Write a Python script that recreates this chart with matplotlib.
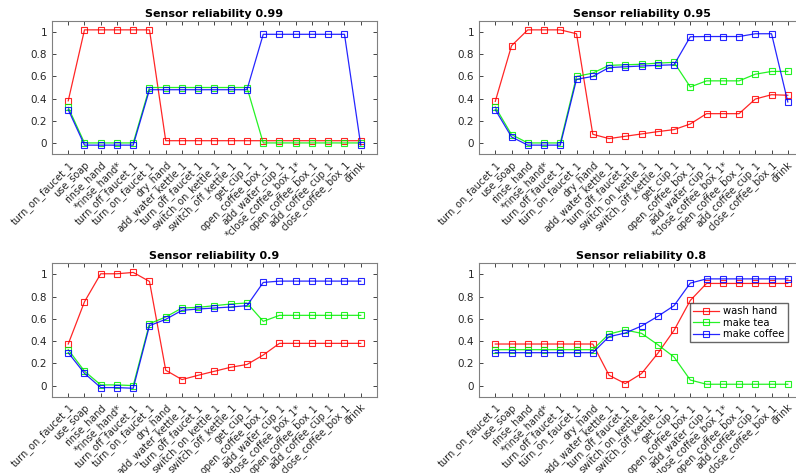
import matplotlib
matplotlib.use("Agg")
import matplotlib.pyplot as plt
import numpy as np

steps = ["turn_on_faucet_1", "use_soap", "rinse_hand", "*rinse_hand*",
         "turn_off_faucet_1", "turn_on_faucet_1", "dry_hand",
         "add_water_kettle_1", "turn_off_faucet_1", "switch_on_kettle_1",
         "switch_off_kettle_1", "get_cup_1", "open_coffee_box_1",
         "add_water_cup_1", "*close_coffee_box_1*", "open_coffee_box_1",
         "add_coffee_cup_1", "close_coffee_box_1", "drink"]
reliabilities = ["0.99", "0.95", "0.9", "0.8"]
series_names = ["wash hand", "make tea", "make coffee"]

# sensor reliability 0.99
wash_99 = [0.38, 1.02, 1.02, 1.02, 1.02, 1.02, 0.02, 0.02, 0.02, 0.02,
           0.02, 0.02, 0.02, 0.02, 0.02, 0.02, 0.02, 0.02, 0.02]
tea_99 = [0.32, 0.0, 0.0, 0.0, 0.0, 0.5, 0.5, 0.5, 0.5, 0.5,
          0.5, 0.5, 0.0, 0.0, 0.0, 0.0, 0.0, 0.0, 0.0]
coffee_99 = [0.30, -0.02, -0.02, -0.02, -0.02, 0.48, 0.48, 0.48, 0.48, 0.48,
             0.48, 0.48, 0.98, 0.98, 0.98, 0.98, 0.98, 0.98, -0.02]

# sensor reliability 0.95
wash_95 = [0.375, 0.877, 1.02, 1.02, 1.02, 0.985, 0.078, 0.039, 0.06, 0.081,
           0.102, 0.12, 0.171, 0.264, 0.264, 0.264, 0.396, 0.435, 0.43]
tea_95 = [0.324, 0.075, 0.0, 0.0, 0.0, 0.60, 0.63, 0.70, 0.705, 0.71,
          0.72, 0.727, 0.505, 0.56, 0.56, 0.56, 0.62, 0.645, 0.645]
coffee_95 = [0.30, 0.054, -0.02, -0.02, -0.02, 0.574, 0.60, 0.68, 0.687, 0.694,
             0.70, 0.705, 0.958, 0.96, 0.96, 0.96, 0.985, 0.985, 0.37]

# sensor reliability 0.9
wash_90 = [0.374, 0.754, 1.006, 1.006, 1.018, 0.937, 0.138, 0.054, 0.093, 0.129,
           0.165, 0.19, 0.275, 0.38, 0.38, 0.38, 0.38, 0.38, 0.38]
tea_90 = [0.323, 0.13, 0.006, 0.006, 0.0, 0.557, 0.617, 0.698, 0.704, 0.719,
          0.734, 0.743, 0.578, 0.632, 0.632, 0.632, 0.632, 0.632, 0.632]
coffee_90 = [0.296, 0.11, -0.018, -0.018, -0.024, 0.539, 0.596, 0.677, 0.689, 0.698,
             0.707, 0.719, 0.928, 0.94, 0.94, 0.94, 0.94, 0.94, 0.94]

# sensor reliability 0.8
wash_80 = [0.374, 0.374, 0.374, 0.374, 0.374, 0.374, 0.374, 0.093, 0.018, 0.108,
           0.29, 0.497, 0.766, 0.919, 0.919, 0.919, 0.919, 0.919, 0.919]
tea_80 = [0.323, 0.323, 0.323, 0.323, 0.323, 0.323, 0.323, 0.464, 0.5, 0.47,
          0.368, 0.257, 0.05, 0.012, 0.012, 0.012, 0.012, 0.012, 0.012]
coffee_80 = [0.296, 0.296, 0.296, 0.296, 0.296, 0.296, 0.296, 0.44, 0.473, 0.536,
             0.623, 0.719, 0.922, 0.96, 0.96, 0.96, 0.96, 0.96, 0.96]

panels = [(wash_99, tea_99, coffee_99), (wash_95, tea_95, coffee_95),
          (wash_90, tea_90, coffee_90), (wash_80, tea_80, coffee_80)]
colors = ["#ff0000", "#00f000", "#0000ff"]

fig = plt.figure(figsize=(7.96, 4.73), dpi=100)
boxes = [(0.0653, 0.6744, 0.4083, 0.2812), (0.6018, 0.6744, 0.4083, 0.2812),
         (0.0653, 0.1613, 0.4083, 0.2820), (0.6018, 0.1613, 0.4083, 0.2820)]

x = np.arange(1, len(steps) + 1)
for i, (box, rel, data) in enumerate(zip(boxes, reliabilities, panels)):
    ax = fig.add_axes(box)
    for vals, col, name in zip(data, colors, series_names):
        ax.plot(x, vals, color=col, lw=0.9, marker="s", ms=5, mfc="none",
                mew=0.8, label=name, alpha=0.85)
    ax.set_xlim(0, len(steps) + 1)
    ax.set_ylim(-0.1, 1.1)
    ax.set_xticks(x)
    ax.set_xticklabels(steps, rotation=45, ha="right", rotation_mode="anchor",
                       fontsize=7, color="#262626")
    ax.set_yticks([0, 0.2, 0.4, 0.6, 0.8, 1])
    ax.set_yticklabels(["0", "0.2", "0.4", "0.6", "0.8", "1"], fontsize=7.5,
                       color="#262626")
    ax.tick_params(axis="x", pad=4)
    ax.tick_params(direction="in", top=True, right=True, length=3,
                   width=0.6, color="#262626")
    for s in ax.spines.values():
        s.set_color("#808080")
        s.set_linewidth(0.8)
    ax.set_title(f"Sensor reliability {rel}", fontsize=8, fontweight="bold",
                 pad=3)
    if i == 3:
        ax.legend(loc="center right", bbox_to_anchor=(0.965, 0.555), fontsize=7.2,
                  frameon=True, fancybox=False, edgecolor="#404040",
                  handlelength=2.6, borderpad=0.3, labelspacing=0.15,
                  handletextpad=0.4)

fig.savefig("out.png", dpi=100)
